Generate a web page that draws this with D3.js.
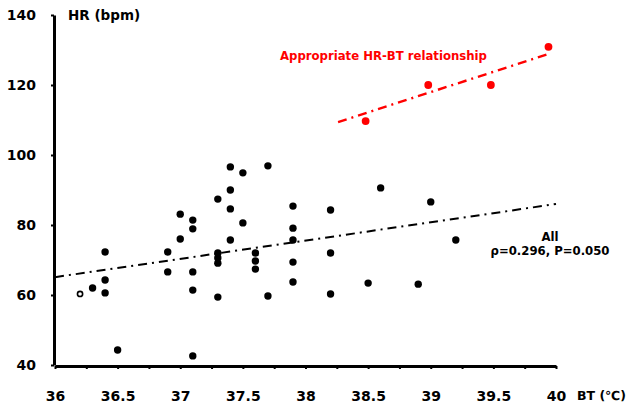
<!DOCTYPE html>
<html>
<head>
    <title>HR vs BT</title>
    <script src="https://cdn.jsdelivr.net/npm/d3@7"></script>
    <style>
        body { margin: 0; background: #fff; }
        text { font-family: "DejaVu Sans", Verdana, sans-serif; font-weight: bold; }
    </style>
</head>
<body>
    <svg width="630" height="408" id="mainSvg"></svg>
    <script>
        // all patients (BT in degC, HR in bpm)
        const allBT = [36.3, 36.4, 36.4, 36.4, 36.5, 36.9, 36.9, 37.0, 37.0, 37.1, 37.1, 37.1, 37.1, 37.1,
            37.3, 37.3, 37.3, 37.3, 37.3, 37.4, 37.4, 37.4, 37.4, 37.5, 37.5, 37.6, 37.6, 37.6, 37.7, 37.7,
            37.9, 37.9, 37.9, 37.9, 37.9, 38.2, 38.2, 38.2, 38.5, 38.6, 38.9, 39.0, 39.2];
        const allHR = [62.0, 72.3, 64.3, 60.6, 44.3, 72.3, 66.6, 83.1, 76.0, 81.4, 78.9, 66.6, 61.4, 42.6,
            87.4, 72.0, 70.6, 69.1, 59.4, 96.6, 90.0, 84.6, 75.7, 94.9, 80.6, 72.0, 69.7, 67.4, 96.9, 59.7,
            85.4, 79.1, 75.7, 69.4, 63.7, 84.3, 72.0, 60.3, 63.4, 90.6, 63.1, 86.6, 75.7];
        // open circle
        const openBT = [36.2];
        const openHR = [60.3];
        // appropriate HR-BT relationship
        const redBT = [38.48, 38.98, 39.48, 39.94];
        const redHR = [109.7, 120.0, 120.0, 130.9];
        // fitted lines (endpoints)
        const allFitBT = [36, 40];
        const allFitHR = [65.1, 86.0];
        const redFitBT = [38.26, 39.96];
        const redFitHR = [109.4, 129.1];

        const xTicks = [36, 36.25, 36.5, 36.75, 37, 37.25, 37.5, 37.75, 38, 38.25, 38.5, 38.75, 39, 39.25, 39.5, 39.75, 40];
        const yTicks = [40, 60, 80, 100, 120, 140];

        const svg = d3.select("#mainSvg");
        const margin = { left: 55, right: 74, top: 15, bottom: 43 };
        const W = +svg.attr("width"), H = +svg.attr("height");

        const x = d3.scaleLinear().domain([36, 40]).range([margin.left, W - margin.right]);
        const y = d3.scaleLinear().domain([40, 140]).range([H - margin.bottom, margin.top]);

        // x axis
        const xAxis = svg.append("g")
            .attr("transform", `translate(0,${y(40) + 1})`)
            .call(d3.axisBottom(x).tickValues(xTicks).tickSize(3).tickSizeOuter(0).tickPadding(22)
                .tickFormat(d => (d * 2) % 1 === 0 ? d3.format("")(d) : ""));
        xAxis.select(".domain").attr("stroke-width", 3);
        xAxis.selectAll(".tick line").attr("stroke-width", 2);
        xAxis.selectAll(".tick text").attr("font-size", 14).attr("fill", "#000")
            .attr("font-family", "DejaVu Sans").attr("font-weight", "bold");

        // y axis
        const yAxis = svg.append("g")
            .attr("transform", `translate(${x(36) - 1},0)`)
            .call(d3.axisLeft(y).tickValues(yTicks).tickSize(3).tickSizeOuter(0).tickPadding(15));
        yAxis.select(".domain").attr("stroke-width", 3);
        yAxis.selectAll(".tick line").attr("stroke-width", 2);
        yAxis.selectAll(".tick text").attr("font-size", 14).attr("fill", "#000")
            .attr("font-family", "DejaVu Sans").attr("font-weight", "bold");

        // fit lines
        const line = d3.line().x(d => x(d[0])).y(d => y(d[1]));
        svg.append("path")
            .datum(d3.zip(allFitBT, allFitHR))
            .attr("d", line)
            .attr("fill", "none").attr("stroke", "#000").attr("stroke-width", 2)
            .attr("stroke-dasharray", "9,5,2,5");
        svg.append("path")
            .datum(d3.zip(redFitBT, redFitHR))
            .attr("d", line)
            .attr("fill", "none").attr("stroke", "#ff0000").attr("stroke-width", 2.4)
            .attr("stroke-dasharray", "9,5,2,5");

        // points
        svg.append("g").selectAll("circle")
            .data(d3.zip(allBT, allHR))
            .join("circle")
            .attr("cx", d => x(d[0])).attr("cy", d => y(d[1]))
            .attr("r", 3.7).attr("fill", "#000");
        svg.append("g").selectAll("circle")
            .data(d3.zip(openBT, openHR))
            .join("circle")
            .attr("cx", d => x(d[0])).attr("cy", d => y(d[1]))
            .attr("r", 2.6).attr("fill", "#fff").attr("stroke", "#000").attr("stroke-width", 1.6);
        svg.append("g").selectAll("circle")
            .data(d3.zip(redBT, redHR))
            .join("circle")
            .attr("cx", d => x(d[0])).attr("cy", d => y(d[1]))
            .attr("r", 3.9).attr("fill", "#ff0000");

        // labels
        svg.append("text").attr("x", 68).attr("y", 20).attr("font-size", 13.5).text("HR (bpm)");
        svg.append("text").attr("x", 577).attr("y", 400).attr("font-size", 12.5).text("BT (℃)");
        svg.append("text").attr("x", 280).attr("y", 60).attr("font-size", 11.7)
            .attr("fill", "#ff0000").text("Appropriate HR-BT relationship");
        svg.append("text").attr("x", 550).attr("y", 241).attr("font-size", 11.7)
            .attr("text-anchor", "middle").text("All");
        svg.append("text").attr("x", 550).attr("y", 255).attr("font-size", 11.7)
            .attr("text-anchor", "middle").text("ρ=0.296, P=0.050");
    </script>
</body>
</html>
